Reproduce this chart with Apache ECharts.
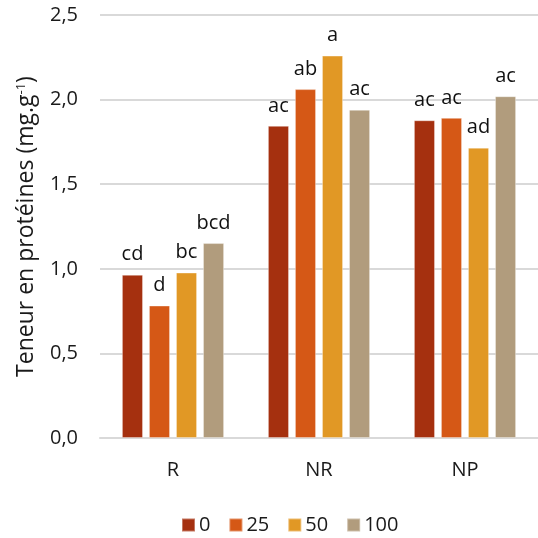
<!DOCTYPE html>
<html><head><meta charset="utf-8">
<script src="https://cdn.jsdelivr.net/npm/echarts@6/dist/echarts.min.js"></script>
<style>html,body{margin:0;padding:0;background:#fff}#c{width:538px;height:538px}</style>
</head><body><div id="c"></div>
<script>
const categories = ['R', 'NR', 'NP'];
const seriesNames = ['0', '25', '50', '100'];
const v0 = [0.965, 1.845, 1.878];
const v25 = [0.783, 2.062, 1.892];
const v50 = [0.978, 2.26, 1.716];
const v100 = [1.152, 1.94, 2.02];
const l0 = ['cd', 'ac', 'ac'];
const l25 = ['d', 'ab', 'ac'];
const l50 = ['bc', 'a', 'ad'];
const l100 = ['bcd', 'ac', 'ac'];
const yTicks = ['0,0', '0,5', '1,0', '1,5', '2,0', '2,5'];
const colors = ['#A5300F', '#D55816', '#E19825', '#B19C7D'];
const FONT = '"Open Sans", sans-serif';

const vals = [v0, v25, v50, v100];
const lets = [l0, l25, l50, l100];

const chart = echarts.init(document.getElementById('c'));
chart.setOption({
  animation: false,
  textStyle: { fontFamily: FONT },
  grid: { left: 100, right: 0, top: 15, bottom: 100, containLabel: false },
  legend: {
    data: seriesNames,
    left: 176, top: 510,
    itemWidth: 13, itemHeight: 13, itemGap: 18,
    icon: 'rect',
    textStyle: { fontSize: 20, color: '#1a1a1a', fontFamily: FONT, padding: [0, 0, 0, -1] }
  },
  xAxis: {
    type: 'category', data: categories,
    axisLine: { lineStyle: { color: '#d9d9d9', width: 2 } },
    axisTick: { show: false },
    axisLabel: { fontSize: 20, color: '#1a1a1a', margin: 22, fontFamily: FONT }
  },
  yAxis: {
    type: 'value', min: 0, max: 2.5, interval: 0.5,
    name: '{a|Teneur en protéines (mg.g}{s|-1}{a|)}',
    nameLocation: 'middle', nameGap: 62, nameRotate: 90,
    nameTextStyle: {
      rich: {
        a: { fontSize: 23, color: '#1a1a1a', fontFamily: FONT },
        s: { fontSize: 13, color: '#1a1a1a', fontFamily: FONT, verticalAlign: 'top', padding: [0, 0, 10, 0] }
      }
    },
    axisLine: { show: false }, axisTick: { show: false },
    splitLine: { lineStyle: { color: '#d9d9d9', width: 2 } },
    axisLabel: {
      fontSize: 20, color: '#1a1a1a', margin: 22, fontFamily: FONT,
      formatter: (v) => yTicks[Math.round(v / 0.5)]
    }
  },
  series: seriesNames.map((n, i) => ({
    name: n, type: 'bar',
    barGap: '28%', barCategoryGap: '30%',
    itemStyle: { color: colors[i], borderColor: 'rgba(255,255,255,0.35)', borderWidth: 1 },
    label: {
      show: true, position: 'top', distance: 10,
      fontSize: 20, color: '#111', fontFamily: FONT,
      formatter: (p) => lets[i][p.dataIndex]
    },
    data: vals[i]
  }))
});
</script></body></html>
